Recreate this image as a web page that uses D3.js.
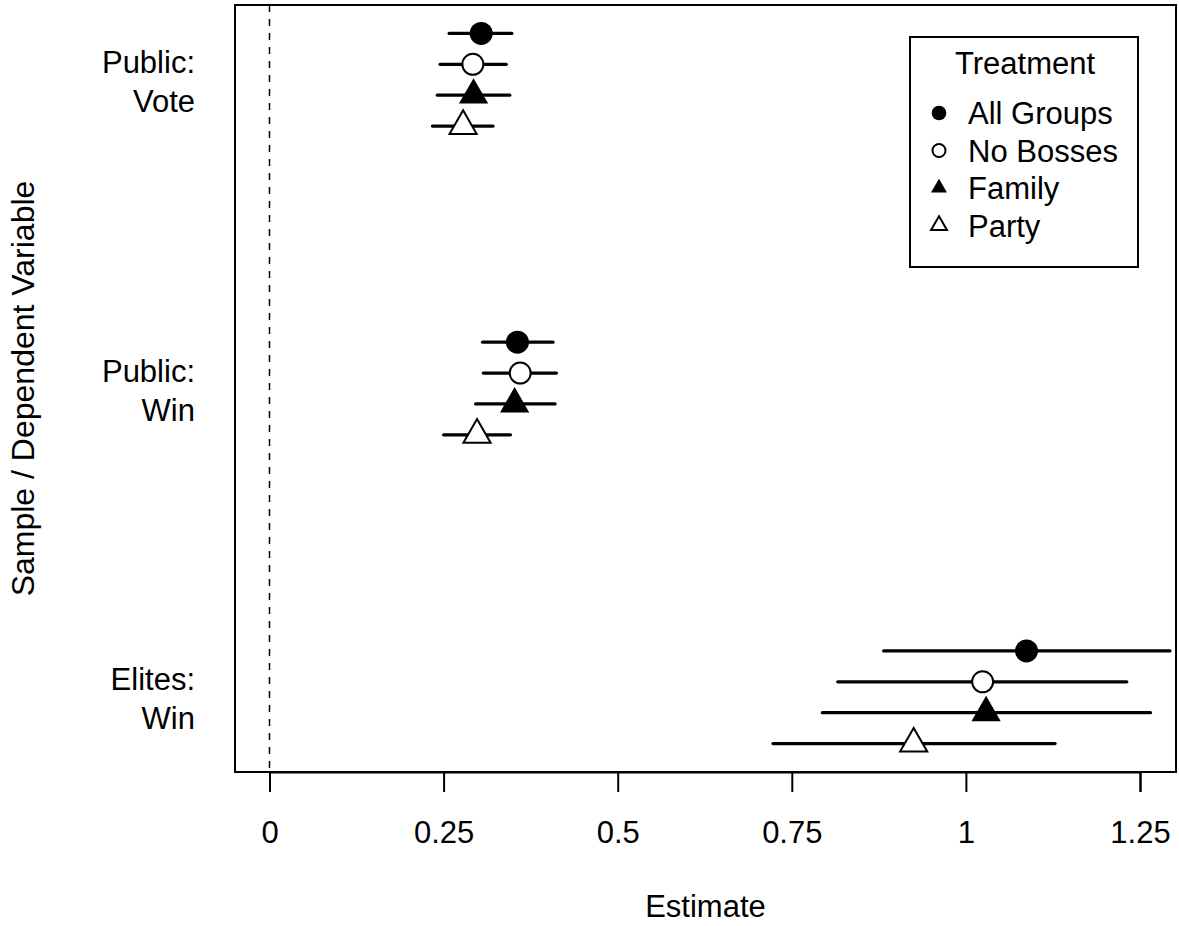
<!DOCTYPE html>
<html>
<head>
<meta charset="utf-8">
<script src="https://cdn.jsdelivr.net/npm/d3@7"></script>
<style>
  body { margin: 0; background: #fff; }
  text { font-family: "Liberation Sans", Arial, sans-serif; fill: #000; }
</style>
</head>
<body>
<svg id="chart" width="1179" height="926"></svg>
<script>
// data
const samples = [["Public:", "Vote"], ["Public:", "Win"], ["Elites:", "Win"]];
const treatments = ["All Groups", "No Bosses", "Family", "Party"];
const shapes = ["dot", "circle", "tri", "opentri"];

const estimate = [
  [0.304, 0.292, 0.293, 0.278],
  [0.356, 0.360, 0.352, 0.298],
  [1.087, 1.024, 1.029, 0.925]
];
const lower = [
  [0.258, 0.245, 0.241, 0.234],
  [0.306, 0.307, 0.296, 0.250],
  [0.882, 0.816, 0.794, 0.723]
];
const upper = [
  [0.348, 0.340, 0.345, 0.321],
  [0.407, 0.412, 0.410, 0.346],
  [1.293, 1.231, 1.265, 1.128]
];
const xTicks = [0, 0.25, 0.5, 0.75, 1, 1.25];
const xTickLabels = ["0", "0.25", "0.5", "0.75", "1", "1.25"];
const offsets = [-0.15, -0.05, 0.05, 0.15];

const svg = d3.select("#chart");
const box = {left: 235, right: 1176, top: 5, bottom: 772};
const fs = 31;

let x = d3.scaleLinear().domain([0, 1.25]).range([269.5, 1140]);
let y = d3.scaleLinear().domain([-0.242, 2.242]).range([box.top, box.bottom]);

let rows = [];
samples.forEach((s, g) => {
  treatments.forEach((t, k) => {
    rows.push({g, k, pos: g + offsets[k], est: estimate[g][k], lo: lower[g][k], hi: upper[g][k]});
  });
});

// reference line at zero
svg.append("line")
  .attr("x1", x(0)).attr("x2", x(0))
  .attr("y1", box.top).attr("y2", box.bottom)
  .attr("stroke", "#000").attr("stroke-width", 1.5)
  .attr("stroke-dasharray", "7,7");

// interval bars
svg.selectAll(".bar")
  .data(rows)
  .enter()
  .append("line")
  .attr("class", "bar")
  .attr("x1", d => x(d.lo)).attr("x2", d => x(d.hi))
  .attr("y1", d => y(d.pos)).attr("y2", d => y(d.pos))
  .attr("stroke", "#000").attr("stroke-width", 3.3)
  .attr("stroke-linecap", "round");

let drawSymbol = (sel, shape, r, tri) => {
  if (shape === "dot" || shape === "circle") {
    sel.append("circle")
      .attr("r", r)
      .attr("fill", shape === "dot" ? "#000" : "#fff")
      .attr("stroke", "#000").attr("stroke-width", shape === "dot" ? 0 : 2);
  } else {
    sel.append("path")
      .attr("d", d3.symbol(d3.symbolTriangle, tri)())
      .attr("fill", shape === "tri" ? "#000" : "#fff")
      .attr("stroke", "#000").attr("stroke-width", shape === "tri" ? 0 : 2);
  }
};

// points
rows.forEach(d => {
  let g = svg.append("g").attr("transform", `translate(${x(d.est)},${y(d.pos)})`);
  drawSymbol(g, shapes[d.k], shapes[d.k] === "dot" ? 11.5 : 10.5, shapes[d.k] === "tri" ? 370 : 320);
});

// plot box
svg.append("rect")
  .attr("x", box.left).attr("y", box.top)
  .attr("width", box.right - box.left).attr("height", box.bottom - box.top)
  .attr("fill", "none").attr("stroke", "#000").attr("stroke-width", 2);

// x axis
let xAxis = d3.axisBottom(x)
  .tickValues(xTicks)
  .tickFormat((d, i) => xTickLabels[i])
  .tickSize(20)
  .tickPadding(29);
let ax = svg.append("g").attr("transform", `translate(0,${box.bottom})`).call(xAxis);
ax.select(".domain").attr("stroke-width", 2);
ax.selectAll(".tick line").attr("stroke-width", 2);
ax.selectAll(".tick text")
  .attr("font-size", fs)
  .attr("font-family", "Liberation Sans, Arial, sans-serif");

// y labels
samples.forEach((s, g) => {
  let t = svg.append("text")
    .attr("text-anchor", "end")
    .attr("font-size", fs);
  t.append("tspan").attr("x", 195).attr("y", y(g) - 7).text(s[0]);
  t.append("tspan").attr("x", 195).attr("y", y(g) + 32).text(s[1]);
});

// axis titles
svg.append("text")
  .attr("x", (box.left + box.right) / 2).attr("y", 917)
  .attr("text-anchor", "middle").attr("font-size", fs)
  .text("Estimate");
svg.append("text")
  .attr("transform", `translate(34,${(box.top + box.bottom) / 2}) rotate(-90)`)
  .attr("text-anchor", "middle").attr("font-size", 32)
  .text("Sample / Dependent Variable");

// legend
let leg = svg.append("g");
leg.append("rect")
  .attr("x", 910).attr("y", 37).attr("width", 228).attr("height", 230)
  .attr("fill", "#fff").attr("stroke", "#000").attr("stroke-width", 2);
leg.append("text")
  .attr("x", 1025).attr("y", 74)
  .attr("text-anchor", "middle").attr("font-size", fs)
  .text("Treatment");
treatments.forEach((t, k) => {
  let cy = 113 + k * 37.5;
  let g = leg.append("g").attr("transform", `translate(939,${cy})`);
  drawSymbol(g, shapes[k], shapes[k] === "dot" ? 7.3 : 6.5, 110);
  leg.append("text")
    .attr("x", 968).attr("y", cy + 11)
    .attr("font-size", fs)
    .text(t);
});
</script>
</body>
</html>
